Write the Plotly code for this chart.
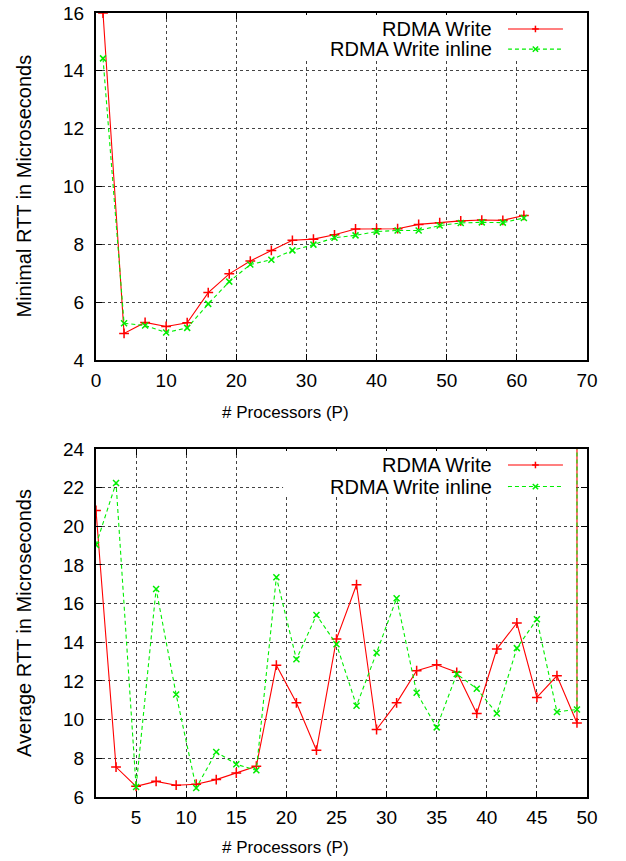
import plotly.graph_objects as go

# Minimal RTT (top)
p_min = [1, 4, 7, 10, 13, 16, 19, 22, 25, 28, 31, 34, 37, 40, 43, 46, 49, 52, 55, 58, 61]
rtt_min_write = [16.0, 4.92, 5.3, 5.16, 5.29, 6.33, 6.98, 7.42, 7.79, 8.14, 8.18,
                 8.33, 8.53, 8.54, 8.54, 8.69, 8.75, 8.81, 8.84, 8.83, 9.0]
rtt_min_inline = [14.43, 5.27, 5.19, 4.95, 5.11, 5.94, 6.71, 7.3, 7.47, 7.79, 7.99,
                  8.23, 8.31, 8.44, 8.48, 8.48, 8.65, 8.74, 8.76, 8.75, 8.91]

# Average RTT (bottom)
p_avg = [1, 3, 5, 7, 9, 11, 13, 15, 17, 19, 21, 23, 25, 27, 29, 31, 33, 35, 37,
         39, 41, 43, 45, 47, 49, 49]
rtt_avg_write = [20.82, 7.55, 6.55, 6.81, 6.61, 6.66, 6.9, 7.24, 7.59, 12.82, 10.87,
                 8.42, 14.17, 16.98, 9.49, 10.87, 12.53, 12.84, 12.45, 10.32, 13.65,
                 15.0, 11.15, 12.27, 9.83, 40.0]
rtt_avg_inline = [19.04, 22.24, 6.52, 16.76, 11.3, 6.47, 8.33, 7.69, 7.38, 17.37, 13.12,
                  15.41, 13.9, 10.72, 13.46, 16.28, 11.39, 9.6, 12.36, 11.6, 10.32,
                  13.7, 15.19, 10.4, 10.53, 40.0]

names = ['RDMA Write', 'RDMA Write inline']
RED = '#ff0000'
GREEN = '#00ee00'
FONT = 'Liberation Sans'

fig = go.Figure()

def add_series(x, y, xa, ya):
  fig.add_trace(go.Scatter(x=x, y=y[0], xaxis=xa, yaxis=ya, mode='lines+markers',
                           line=dict(color=RED, width=1.1),
                           marker=dict(symbol='cross-thin', size=7,
                                       line=dict(color=RED, width=1.5)),
                           showlegend=False))
  fig.add_trace(go.Scatter(x=x, y=y[1], xaxis=xa, yaxis=ya, mode='lines+markers',
                           line=dict(color=GREEN, width=1.1, dash='4px,3px'),
                           marker=dict(symbol='x-thin', size=6,
                                       line=dict(color=GREEN, width=1.5)),
                           showlegend=False))

add_series(p_min, [rtt_min_write, rtt_min_inline], 'x', 'y')
add_series(p_avg, [rtt_avg_write, rtt_avg_inline], 'x2', 'y2')

def axis(rng, dtick, tick0, domain, anchor, standoff):
  return dict(range=rng, dtick=dtick, tick0=tick0, domain=domain, anchor=anchor,
              showline=True, linecolor='black', linewidth=2, mirror='allticks',
              ticks='inside', ticklen=6, tickwidth=1, tickcolor='black',
              showgrid=True, gridcolor='#444444', gridwidth=1, griddash='dot',
              zeroline=False, ticklabelstandoff=standoff, automargin=False,
              tickfont=dict(family=FONT, size=19, color='black'))

layout = dict(width=626, height=861, paper_bgcolor='white', plot_bgcolor='white',
              margin=dict(l=96, r=39, t=13, b=64, autoexpand=False),
              xaxis=axis([0, 70], 10, 0, [0, 1], 'y', 2),
              yaxis=axis([4, 16], 2, 4, [0.5574, 1], 'x', 6),
              xaxis2=axis([1, 50], 5, 0, [0, 1], 'y2', 2),
              yaxis2=axis([6, 24], 2, 6, [0, 0.4439], 'x2', 6))
fig.update_layout(**layout)

# axis titles
titles = [('# Processors (P)', 0.386, 0.491, 0, 17),
          ('# Processors (P)', 0.386, -0.065, 0, 17),
          ('Minimal RTT in Microseconds', -0.1466, 0.7787, -90, 20),
          ('Average RTT in Microseconds', -0.1466, 0.222, -90, 20)]
for text, x, y, ang, sz in titles:
  fig.add_annotation(text=text, x=x, y=y, xref='paper', yref='paper', showarrow=False,
                     textangle=ang, xanchor='center', yanchor='middle',
                     font=dict(family=FONT, size=sz, color='black'))

# gnuplot style key: text on the left, sample on the right, on a white box
for xa, ya, rows in [('x', 'y', [0.954, 0.896]), ('x2', 'y2', [0.954, 0.892])]:
  xr, yr = f'{xa} domain', f'{ya} domain'
  fig.add_shape(type='rect', xref=xr, yref=yr, x0=0.381, x1=0.976, y0=0.8646, y1=0.994,
                fillcolor='white', line=dict(width=0), layer='above')
  for i, (name, col) in enumerate(zip(names, [RED, GREEN])):
    fig.add_annotation(text=name, x=0.8106, y=rows[i], xref=xr, yref=yr, showarrow=False,
                       xanchor='right', yanchor='middle',
                       font=dict(family=FONT, size=20, color='black'))
    fig.add_shape(type='line', xref=xr, yref=yr, x0=0.839, x1=0.951, y0=rows[i], y1=rows[i],
                  line=dict(color=col, width=1.1, dash='solid' if i == 0 else '4px,3px'))
    dx, dy = 0.0068, 0.0095
    if i == 0:
      segs = [(-dx, 0, dx, 0), (0, -dy, 0, dy)]
    else:
      segs = [(-dx * 0.8, -dy * 0.8, dx * 0.8, dy * 0.8), (-dx * 0.8, dy * 0.8, dx * 0.8, -dy * 0.8)]
    for a, b, c, d in segs:
      fig.add_shape(type='line', xref=xr, yref=yr, x0=0.895 + a, y0=rows[i] + b,
                    x1=0.895 + c, y1=rows[i] + d, line=dict(color=col, width=1.5))

# drop the default page margin so the figure fills the window exactly
fig.write_html('out.html', config={'displayModeBar': False},
               post_script="document.body.style.margin='0px';")
